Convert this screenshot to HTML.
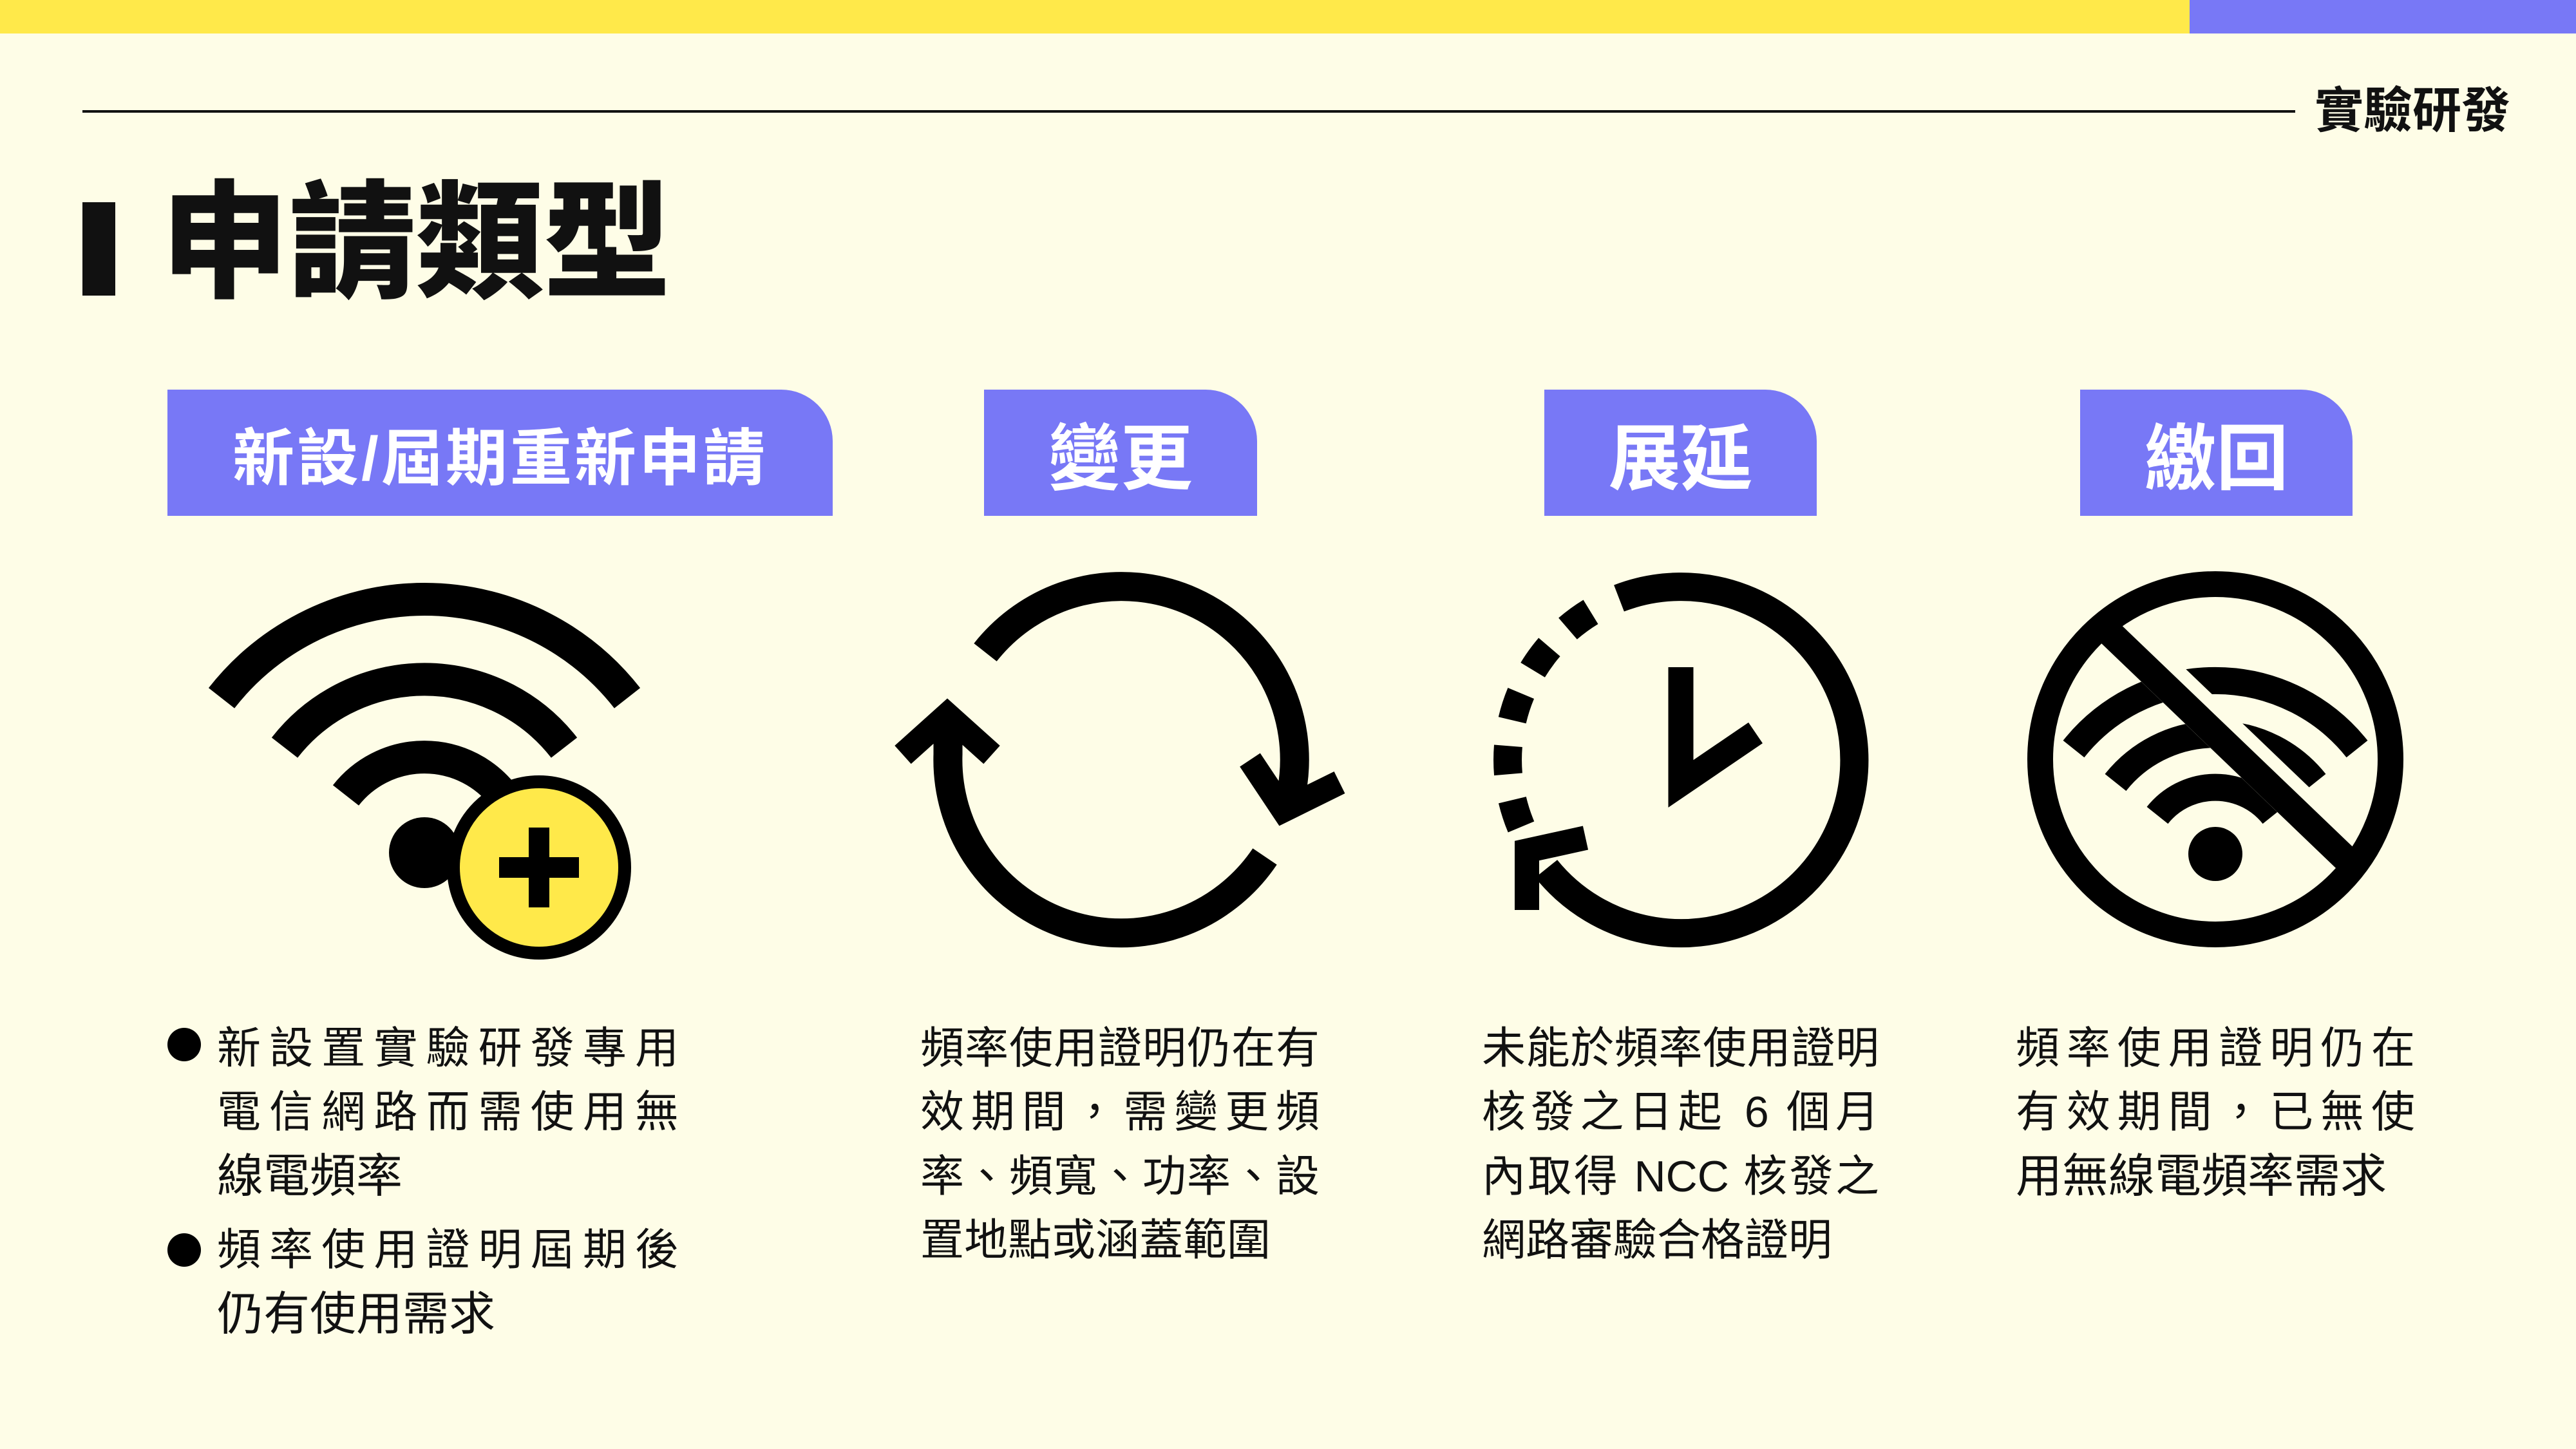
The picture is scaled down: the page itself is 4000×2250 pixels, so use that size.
<!DOCTYPE html>
<html><head><meta charset="utf-8">
<style>
html,body{margin:0;padding:0;}
body{width:4000px;height:2250px;position:relative;overflow:hidden;background:#FEFDE7;font-family:"Liberation Sans","Noto Sans CJK TC",sans-serif;color:#111;}
.a{position:absolute;}
.tab{position:absolute;top:605px;height:196px;background:#7878F6;border-radius:0 80px 0 0;color:#fff;font-weight:700;display:flex;align-items:center;justify-content:center;}
.ln{position:absolute;height:100px;line-height:100px;font-size:68px;white-space:nowrap;}
.j{text-align:justify;text-align-last:justify;text-justify:inter-character;}
.b{position:absolute;width:52px;height:52px;border-radius:50%;background:#000;left:260px;}
</style></head><body>
<div class="a" style="left:0;top:0;width:3400px;height:52px;background:#FFE94A"></div>
<div class="a" style="left:3400px;top:0;width:600px;height:52px;background:#7878F6"></div>
<div class="a" style="left:128px;top:171px;width:3436px;height:4px;background:#111"></div>
<div class="a" style="left:3560px;top:123px;width:338px;height:100px;line-height:100px;font-size:76px;font-weight:700;text-align:right">實驗研發</div>
<div class="a" style="left:128px;top:314px;width:51px;height:145px;background:#111"></div>
<div class="a" style="left:250px;top:263px;height:230px;line-height:230px;font-size:198px;font-weight:900;white-space:nowrap">申請類型</div>

<div class="tab" style="left:260px;width:1033px;font-size:96px;letter-spacing:4px">新設/屆期重新申請</div>
<div class="tab" style="left:1528px;width:424px;font-size:112px">變更</div>
<div class="tab" style="left:2398px;width:423px;font-size:112px">展延</div>
<div class="tab" style="left:3230px;width:423px;font-size:112px">繳回</div>

<svg class="a" style="left:0;top:0" width="4000" height="2250" viewBox="0 0 4000 2250">
<defs><clipPath id="cc"><circle cx="3440" cy="1179" r="272"/></clipPath></defs>
<g fill="none" stroke="#000" stroke-linecap="butt">
<path d="M344 1084 A400 400 0 0 1 974 1084" stroke-width="51"/>
<path d="M442 1161 A275 275 0 0 1 876 1161" stroke-width="51"/>
<path d="M537 1235 A155 155 0 0 1 781 1235" stroke-width="51"/>
<circle cx="659" cy="1324" r="55" fill="#000" stroke="none"/>
<circle cx="837" cy="1347" r="133" fill="#FFE94A" stroke-width="20"/>
<rect x="775" y="1331" width="124" height="32" fill="#000" stroke="none"/>
<rect x="821" y="1285" width="32" height="124" fill="#000" stroke="none"/>
<path d="M1530 1013 A269 269 0 0 1 2006 1227 L1996 1252" stroke-width="45"/>
<polyline points="1941,1180 1993,1258 2080,1215" stroke-width="38" stroke-linejoin="miter"/>
<path d="M1964 1330 A269 269 0 0 1 1472 1171 L1472 1125" stroke-width="45"/>
<polyline points="1402,1172 1471,1110 1540,1172" stroke-width="38" stroke-linejoin="miter"/>
<path d="M2514 929 A269 269 0 1 1 2401 1349" stroke-width="44"/>
<path d="M2362 1284 A269 269 0 0 1 2475.5 947" stroke-width="44" stroke-dasharray="44 40.5"/>
<polyline points="2462,1301 2371,1321 2371,1413" stroke-width="38" stroke-linejoin="miter"/>
<polyline points="2610,1036 2610,1217 2726,1138" stroke-width="39" stroke-linejoin="miter"/>
<path d="M3220 1163 A281 281 0 0 1 3660 1163" stroke-width="42"/>
<path d="M3285 1215 A198 198 0 0 1 3595 1215" stroke-width="42"/>
<path d="M3350 1266 A115 115 0 0 1 3530 1266" stroke-width="42"/>
<circle cx="3440" cy="1326" r="42" fill="#000" stroke="none"/>
<g clip-path="url(#cc)">
<line x1="3148" y1="846" x2="3798" y2="1469" stroke="#FEFDE7" stroke-width="62"/>
<line x1="3141" y1="853" x2="3791" y2="1476" stroke-width="42"/>
</g>
<circle cx="3440" cy="1179" r="272" stroke-width="40"/>
</g>
</svg>

<div class="b" style="top:1596px"></div>
<div class="b" style="top:1915px"></div>
<div class="ln j" style="left:337px;top:1578px;width:717px">新設置實驗研發專用</div>
<div class="ln j" style="left:337px;top:1677px;width:717px">電信網路而需使用無</div>
<div class="ln" style="left:337px;top:1777px;font-size:72px">線電頻率</div>
<div class="ln j" style="left:337px;top:1891px;width:717px">頻率使用證明屆期後</div>
<div class="ln" style="left:337px;top:1991px;font-size:72px">仍有使用需求</div>

<div class="ln j" style="left:1429px;top:1578px;width:620px">頻率使用證明仍在有</div>
<div class="ln j" style="left:1429px;top:1677px;width:620px">效期間，需變更頻</div>
<div class="ln j" style="left:1429px;top:1777px;width:620px">率、頻寬、功率、設</div>
<div class="ln" style="left:1429px;top:1876px">置地點或涵蓋範圍</div>

<div class="ln j" style="left:2301px;top:1578px;width:617px">未能於頻率使用證明</div>
<div class="ln j" style="left:2301px;top:1677px;width:617px">核發之日起 6 個月</div>
<div class="ln j" style="left:2301px;top:1777px;width:617px">內取得 NCC 核發之</div>
<div class="ln" style="left:2301px;top:1876px">網路審驗合格證明</div>

<div class="ln j" style="left:3130px;top:1578px;width:620px">頻率使用證明仍在</div>
<div class="ln j" style="left:3130px;top:1677px;width:620px">有效期間，已無使</div>
<div class="ln" style="left:3130px;top:1777px;font-size:72px">用無線電頻率需求</div>
</body></html>
